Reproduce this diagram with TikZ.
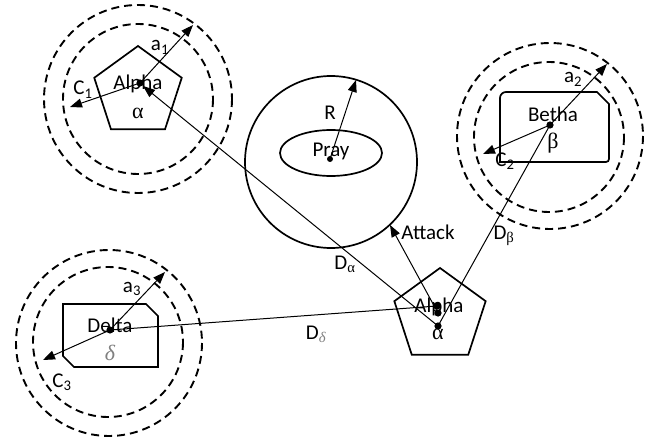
\documentclass[tikz,border=0pt]{standalone}
\usepackage{fontspec}
\setmainfont{Carlito}
\newfontfamily\grk{Liberation Serif}
\usetikzlibrary{arrows.meta,shapes.geometric}
\begin{document}
\begin{tikzpicture}[x=1pt,y=-1pt,
  ring/.style={dash pattern=on 8pt off 5pt, line width=1.9pt},
  outline/.style={line width=1.7pt},
  arr/.style={line width=1pt, -{Triangle[length=12pt,width=9pt]}},
  conn/.style={line width=1pt},
  lbl/.style={font=\fontsize{21}{24}\selectfont, inner sep=0pt, anchor=base},
  glbl/.style={font=\fontsize{22}{24}\selectfont\grk, inner sep=0pt, anchor=center},
  pent/.style={regular polygon, regular polygon sides=5, draw, line width=1.7pt, inner sep=0pt},
]
\useasboundingbox (0,0) rectangle (653,441);
\fill[white] (0,0) rectangle (653,441);

% coordinates
\coordinate (A1) at (140,83);
\coordinate (A1b) at (143,86);
\coordinate (B) at (550,125);
\coordinate (Dl) at (110,330);
\coordinate (P) at (330,159);
\coordinate (A2a) at (437,306);
\coordinate (A2b) at (438,313);
\coordinate (A2c) at (438,326);
\coordinate (a1t) at (193,25);
\coordinate (c1t) at (70,107);
\coordinate (a2t) at (607,64);
\coordinate (c2t) at (483,154);
\coordinate (a3t) at (165,272);
\coordinate (c3t) at (43,360);
\coordinate (Rt) at (356,80);
\coordinate (Att) at (390,225);

% Alpha 1 group
\draw[ring] (138,99) circle (94);
\draw[ring] (138,99) circle (75);
\node[pent, minimum size=92pt] (p1) at (138,92) {};
\node[lbl] (t1) at (138,90) {Alpha};
\node[glbl] (g1) at (138,113) {α};
\node[lbl] (la1) at (160,51) {a\textsubscript{1}};
\node[lbl] (lc1) at (83,95) {C\textsubscript{1}};

% Betha group
\draw[ring] (550,136) circle (93);
\draw[ring] (549,137) circle (75);
\draw[outline] (500,162) -- (500,98) .. controls (500,94.7) and (502.7,92) .. (506,92)
  -- (597,92) -- (609,104) -- (609,159) .. controls (609,160.7) and (607.7,162) .. (606,162) -- cycle;
\node[lbl] (t2) at (553,122) {Betha};
\node[glbl] (g2) at (553,143) {β};
\node[lbl] (la2) at (573,83) {a\textsubscript{2}};
\node[lbl] (lc2) at (505,166) {C\textsubscript{2}};

% Delta group
\draw[ring] (109,343) circle (93);
\draw[ring] (108,342) circle (75);
\draw[outline] (63,304) -- (146,304) -- (158,316) -- (158,367) -- (74,367) -- (63,356) -- cycle;
\node[lbl] (t3) at (110,332) {Delta};
\node[glbl, text=gray, font=\fontsize{22}{24}\selectfont\grk\itshape] (g3) at (110,353) {δ};
\node[lbl] (la3) at (132,292) {a\textsubscript{3}};
\node[lbl] (lc3) at (62,387) {C\textsubscript{3}};

% Prey
\draw[outline] (331,162) circle (86);
\draw[outline] (331,153) ellipse (51 and 23);
\node[lbl] (tp) at (331,157) {Pray};
\node[lbl] (lr) at (330,120) {R};

% Alpha 2
\node[pent, minimum size=96pt] (p2) at (440,316) {};
\node[lbl] (t4) at (439,312) {Alpha};
\node[glbl] (g4) at (438,334) {α};

% connectors
\draw[arr] (A1) -- (a1t);
\draw[arr] (A1) -- (c1t);
\draw[arr] (B) -- (a2t);
\draw[arr] (B) -- (c2t);
\draw[arr] (Dl) -- (a3t);
\draw[arr] (Dl) -- (c3t);
\draw[arr] (P) -- (Rt);
\draw[arr] (A2c) -- (A1b);
\draw[conn] (B) -- (A2c);
\draw[arr] (A2b) -- (Att);
\draw[conn] (Dl) -- (A2a);

% dots
\foreach \c in {A1,B,Dl,A2a,A2b,A2c} \fill (\c) circle (3.6);
\fill (P) circle (3);

% distance labels
\node[lbl] (lda) at (345,269) {D\textsubscript{\grk α}};
\node[lbl] (ldb) at (504,239) {D\textsubscript{\grk β}};
\node[lbl] (ldd) at (316,339) {D\textsubscript{\color{gray}\grk\itshape δ}};
\node[lbl] (lat) at (428,239) {Attack};
\end{tikzpicture}
\end{document}
